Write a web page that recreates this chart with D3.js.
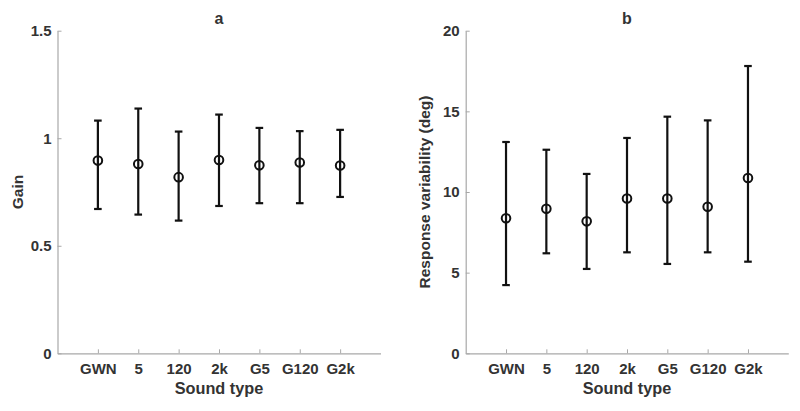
<!DOCTYPE html>
<html>
<head>
<meta charset="utf-8">
<script src="https://cdn.jsdelivr.net/npm/d3@7"></script>
<style>
  body { margin: 0; background: #fff; }
  text { font-family: "Liberation Sans", Arial, Helvetica, sans-serif; font-weight: bold; fill: #333; }
</style>
</head>
<body>
<svg id="chart" width="800" height="411"></svg>
<script>
// sound types on the x axis
const soundTypes = ['GWN', '5', '120', '2k', 'G5', 'G120', 'G2k'];

// panel a: gain
const gainMean = [0.896, 0.880, 0.819, 0.899, 0.874, 0.887, 0.873];
const gainHigh = [1.082, 1.138, 1.031, 1.110, 1.048, 1.033, 1.039];
const gainLow  = [0.671, 0.645, 0.617, 0.685, 0.698, 0.698, 0.727];
const gainTicks = [0, 0.5, 1, 1.5];

// panel b: response variability (deg)
const varMean = [8.37, 8.96, 8.18, 9.60, 9.60, 9.09, 10.87];
const varHigh = [13.10, 12.62, 11.12, 13.35, 14.67, 14.44, 17.81];
const varLow  = [4.23, 6.20, 5.23, 6.26, 5.54, 6.26, 5.68];
const varTicks = [0, 5, 10, 15, 20];

const svg = d3.select('#chart');

function drawPanel(cfg) {
    const g = svg.append('g');

    // x positions 1..7 inside a 0..8 domain
    const x = d3.scaleLinear().domain([0, soundTypes.length + 1]).range([cfg.left, cfg.right]);
    const y = d3.scaleLinear().domain(cfg.domain).range([353.3, 30.7]);

    // axes, ticks drawn inward like matlab
    const xAxis = g.append('g')
        .attr('transform', `translate(0,${y(cfg.domain[0])})`)
        .call(d3.axisBottom(x).tickValues(d3.range(1, soundTypes.length + 1))
            .tickFormat(i => soundTypes[i - 1]).tickSizeInner(-4).tickSizeOuter(0).tickPadding(10));
    const yAxis = g.append('g')
        .attr('transform', `translate(${cfg.left},0)`)
        .call(d3.axisLeft(y).tickValues(cfg.ticks).tickFormat(d3.format('~g'))
            .tickSizeInner(-4).tickSizeOuter(0).tickPadding(6));

    [xAxis, yAxis].forEach(a => {
        a.select('.domain').attr('stroke', '#a8a8a8').attr('stroke-width', 1.2);
        a.selectAll('.tick line').attr('stroke', '#a8a8a8');
        a.selectAll('.tick text').attr('font-size', 15).style('fill', '#333');
    });

    // title
    g.append('text')
        .attr('x', (cfg.left + cfg.right) / 2).attr('y', 24)
        .attr('text-anchor', 'middle').attr('font-size', 16)
        .text(cfg.title);

    // axis labels
    g.append('text')
        .attr('x', (cfg.left + cfg.right) / 2).attr('y', 394)
        .attr('text-anchor', 'middle').attr('font-size', 16.3)
        .text('Sound type');
    g.append('text')
        .attr('transform', `translate(${cfg.labelX},${(30.7 + 353.3) / 2}) rotate(-90)`)
        .attr('text-anchor', 'middle').attr('font-size', 15.5)
        .text(cfg.yLabel);

    const rows = soundTypes.map((s, i) => ({ i: i + 1, m: cfg.mean[i], hi: cfg.high[i], lo: cfg.low[i] }));
    const bars = g.append('g').selectAll('g').data(rows).join('g');

    bars.append('line')
        .attr('x1', d => x(d.i)).attr('x2', d => x(d.i))
        .attr('y1', d => y(d.lo)).attr('y2', d => y(d.hi))
        .attr('stroke', '#111').attr('stroke-width', 2.2);
    ['hi', 'lo'].forEach(k => {
        bars.append('line')
            .attr('x1', d => x(d.i) - 3.8).attr('x2', d => x(d.i) + 3.8)
            .attr('y1', d => y(d[k])).attr('y2', d => y(d[k]))
            .attr('stroke', '#111').attr('stroke-width', 2.2);
    });
    bars.append('circle')
        .attr('cx', d => x(d.i)).attr('cy', d => y(d.m))
        .attr('r', 4.3)
        .attr('fill', 'none').attr('stroke', '#111').attr('stroke-width', 2);
}

drawPanel({
    left: 57.5, right: 380.5, domain: [0, 1.5], ticks: gainTicks,
    mean: gainMean, high: gainHigh, low: gainLow,
    title: 'a', yLabel: 'Gain', labelX: 23
});
drawPanel({
    left: 465.7, right: 788.3, domain: [0, 20], ticks: varTicks,
    mean: varMean, high: varHigh, low: varLow,
    title: 'b', yLabel: 'Response variability (deg)', labelX: 430
});
</script>
</body>
</html>
